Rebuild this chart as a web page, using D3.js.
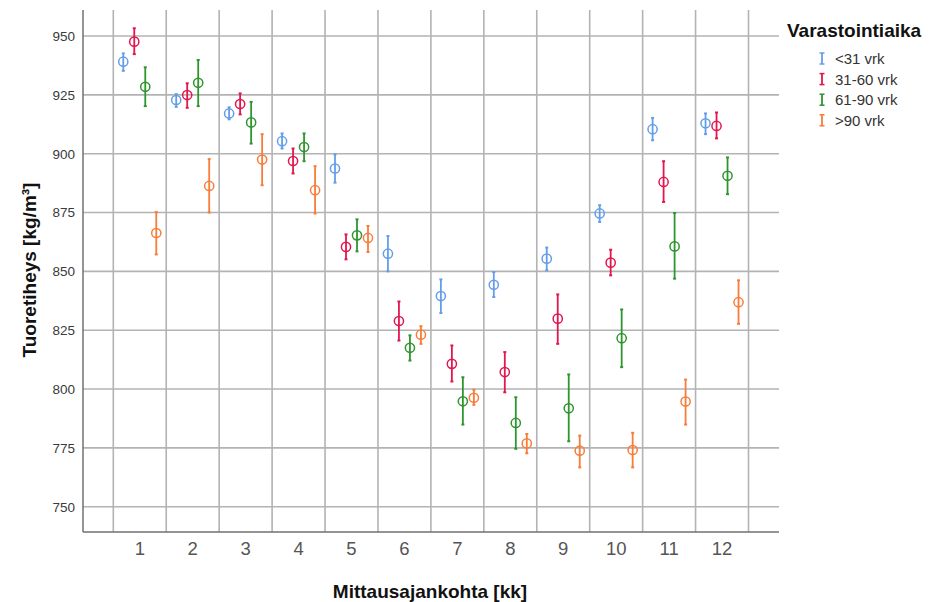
<!DOCTYPE html>
<html>
<head>
<meta charset="utf-8">
<script src="https://cdn.jsdelivr.net/npm/d3@7"></script>
<style>
  html, body { margin: 0; padding: 0; background: #fff; }
  svg { display: block; font-family: "Liberation Sans", Arial, sans-serif; }
</style>
</head>
<body>
<svg id="chart" width="946" height="602"></svg>
<script>
// Measurement months (x categories)
const months = [1, 2, 3, 4, 5, 6, 7, 8, 9, 10, 11, 12];
// Storage-time groups (legend order)
const groups = ["<31 vrk", "31-60 vrk", "61-90 vrk", ">90 vrk"];
const groupColors = ["#649ee9", "#e2174d", "#2f952f", "#f87d3a"];
// Y tick values
const yTicks = [750, 775, 800, 825, 850, 875, 900, 925, 950];

// Mean green density and 95 % confidence bounds, per storage group
const meanLt31  = [939.1, 922.8, 917.1, 905.3, 893.7, 857.5, 839.5, 844.3, 855.4, 874.6, 910.4, 912.9];
const lowLt31   = [935.2, 919.9, 914.6, 902.2, 887.7, 850.0, 832.3, 839.1, 850.4, 871.0, 905.7, 908.3];
const highLt31  = [942.6, 925.3, 919.7, 908.6, 899.7, 865.0, 846.6, 849.7, 860.1, 878.1, 915.2, 917.1];

const mean31_60 = [947.6, 924.9, 921.1, 896.9, 860.4, 828.9, 810.7, 807.2, 829.9, 853.7, 888.0, 911.8];
const low31_60  = [942.3, 919.5, 916.7, 891.6, 855.1, 820.6, 803.2, 798.6, 819.2, 848.3, 879.5, 906.5];
const high31_60 = [953.3, 929.9, 925.6, 902.2, 865.7, 837.2, 818.5, 815.7, 840.2, 859.2, 896.8, 917.5];

const mean61_90 = [928.4, 930.1, 913.3, 902.8, 865.3, 817.5, 794.8, 785.6, 791.8, 821.6, 860.6, 890.6];
const low61_90  = [920.2, 920.2, 904.3, 896.8, 858.5, 812.1, 784.9, 774.6, 777.8, 809.3, 846.9, 882.8];
const high61_90 = [936.7, 939.8, 922.0, 908.6, 872.1, 822.8, 805.0, 796.5, 806.2, 833.8, 874.8, 898.4];

const meanGt90  = [866.3, 886.3, 897.5, 884.5, 864.2, 823.1, 796.3, 776.9, 773.8, 774.1, 794.7, 836.9];
const lowGt90   = [857.2, 875.0, 886.6, 874.6, 858.2, 819.2, 793.3, 772.7, 766.7, 766.7, 784.9, 827.7];
const highGt90  = [875.2, 897.7, 908.3, 894.7, 869.3, 826.7, 799.7, 780.9, 780.2, 781.4, 804.0, 846.2];

const seriesMeans = [meanLt31, mean31_60, mean61_90, meanGt90];
const seriesLows  = [lowLt31, low31_60, low61_90, lowGt90];
const seriesHighs = [highLt31, high31_60, high61_90, highGt90];

// Flat table of points for drawing
const points = [];
groups.forEach((g, gi) => {
  months.forEach((m, mi) => {
    points.push({ group: g, gi, month: m,
      mean: seriesMeans[gi][mi], low: seriesLows[gi][mi], high: seriesHighs[gi][mi] });
  });
});

const svg = d3.select("#chart");
const plot = { left: 83, right: 779, top: 10, bottom: 532 };

// Category boundaries sit inside the frame, leaving a margin at each side
const x = d3.scaleBand().domain(months).range([113.3, 748.5]).paddingInner(0).paddingOuter(0);
const xInner = d3.scaleBand().domain(groups)
  .range([x.bandwidth() / 2 - 22, x.bandwidth() / 2 + 22]);
const y = d3.scaleLinear().domain([739.25, 961.05]).range([plot.bottom, plot.top]);
const color = d3.scaleOrdinal().domain(groups).range(groupColors);

const gridColor = "#b3b3b3";

// Horizontal grid lines
svg.append("g").selectAll("line").data(yTicks).join("line")
  .attr("x1", plot.left).attr("x2", plot.right)
  .attr("y1", d => y(d)).attr("y2", d => y(d))
  .attr("stroke", gridColor).attr("stroke-width", 1.6);

// Vertical grid lines at category boundaries
const boundaries = months.map(m => x(m)).concat([x(months[months.length - 1]) + x.bandwidth()]);
svg.append("g").selectAll("line").data(boundaries).join("line")
  .attr("x1", d => d).attr("x2", d => d)
  .attr("y1", plot.top).attr("y2", plot.bottom)
  .attr("stroke", gridColor).attr("stroke-width", 1.6);

// Axes
const yAxis = d3.axisLeft(y).tickValues(yTicks).tickSize(0).tickPadding(8);
const yg = svg.append("g").attr("transform", `translate(${plot.left},0)`).call(yAxis);
yg.select(".domain").remove();
yg.selectAll("text").attr("font-size", 13.5).attr("fill", "#3a3a3a")
  .attr("font-family", "Liberation Sans, Arial, sans-serif");

const xAxis = d3.axisBottom(x).tickSize(0).tickPadding(10);
const xg = svg.append("g").attr("transform", `translate(0,${plot.bottom})`).call(xAxis);
xg.select(".domain").remove();
xg.selectAll("text").attr("font-size", 18.5).attr("fill", "#555")
  .attr("font-family", "Liberation Sans, Arial, sans-serif");

svg.append("line").attr("x1", plot.left).attr("x2", plot.left)
  .attr("y1", plot.top).attr("y2", plot.bottom)
  .attr("stroke", "#707070").attr("stroke-width", 1.5);
svg.append("line").attr("x1", plot.left).attr("x2", plot.right)
  .attr("y1", plot.bottom).attr("y2", plot.bottom)
  .attr("stroke", "#707070").attr("stroke-width", 1.5);

// Error bars and mean markers
const marks = svg.append("g").selectAll("g").data(points).join("g")
  .attr("transform", d => `translate(${x(d.month) + xInner(d.group) + xInner.bandwidth() / 2},0)`)
  .attr("stroke", d => color(d.group)).attr("fill", "none");

marks.append("line")
  .attr("x1", 0).attr("x2", 0)
  .attr("y1", d => y(d.high)).attr("y2", d => y(d.low))
  .attr("stroke-width", 1.8);
marks.append("line")
  .attr("x1", -1.5).attr("x2", 1.5)
  .attr("y1", d => y(d.high)).attr("y2", d => y(d.high))
  .attr("stroke-width", 2);
marks.append("line")
  .attr("x1", -1.5).attr("x2", 1.5)
  .attr("y1", d => y(d.low)).attr("y2", d => y(d.low))
  .attr("stroke-width", 2);
marks.append("circle")
  .attr("cx", 0).attr("cy", d => y(d.mean)).attr("r", 4.6)
  .attr("fill", "none").attr("stroke-width", 1.5);

// Axis titles
svg.append("text")
  .attr("x", (plot.left + plot.right) / 2 - 1).attr("y", 598)
  .attr("text-anchor", "middle").attr("font-weight", "bold").attr("font-size", 19)
  .attr("fill", "#111").text("Mittausajankohta [kk]");

svg.append("text")
  .attr("transform", "translate(36,270) rotate(-90)")
  .attr("text-anchor", "middle").attr("font-weight", "bold").attr("font-size", 19)
  .attr("fill", "#111").text("Tuoretiheys [kg/m³]");

// Legend
const legend = svg.append("g");
legend.append("text").attr("x", 787).attr("y", 37)
  .attr("font-weight", "bold").attr("font-size", 19).attr("fill", "#111")
  .text("Varastointiaika");

const items = legend.selectAll("g.item").data(groups).join("g")
  .attr("class", "item")
  .attr("transform", (d, i) => `translate(822,${58.5 + i * 20.6})`);
items.append("line").attr("x1", 0).attr("x2", 0).attr("y1", -5.5).attr("y2", 5.5)
  .attr("stroke", d => color(d)).attr("stroke-width", 1.8);
items.append("line").attr("x1", -2.5).attr("x2", 2.5).attr("y1", -5.5).attr("y2", -5.5)
  .attr("stroke", d => color(d)).attr("stroke-width", 1.5);
items.append("line").attr("x1", -2.5).attr("x2", 2.5).attr("y1", 5.5).attr("y2", 5.5)
  .attr("stroke", d => color(d)).attr("stroke-width", 1.5);
items.append("text").attr("x", 13).attr("y", 0).attr("dy", "0.36em")
  .attr("font-size", 15).attr("fill", "#333").text(d => d);
</script>
</body>
</html>
